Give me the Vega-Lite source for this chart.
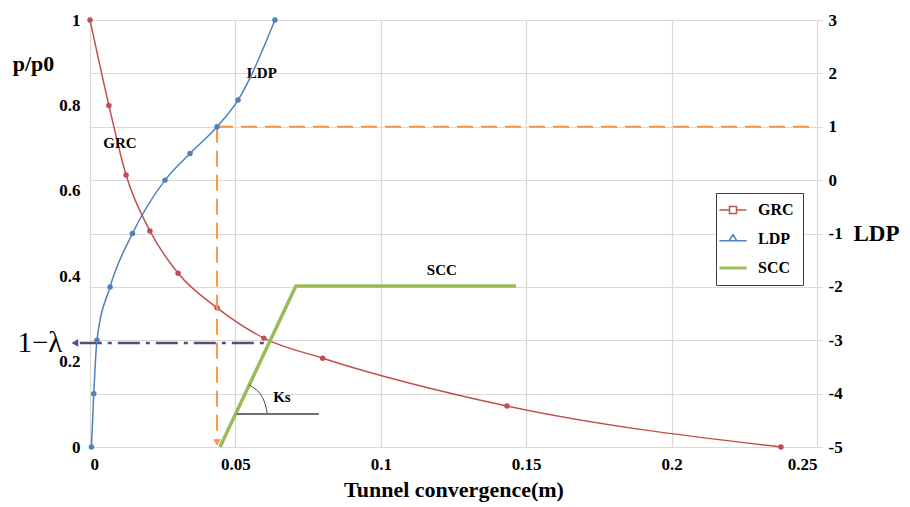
{
  "$schema": "https://vega.github.io/schema/vega-lite/v6.json",
  "width": 727,
  "height": 427,
  "autosize": {"type": "none"},
  "padding": {"left": 90, "top": 20, "right": 93, "bottom": 60},
  "background": "white",
  "config": {
    "view": {"stroke": null},
    "font": "Liberation Serif",
    "axis": {"labelFont": "Liberation Serif", "labelFontWeight": "bold", "labelFontSize": 17, "labelColor": "black", "titleFont": "Liberation Serif", "titleFontWeight": "bold", "titleColor": "black", "gridColor": "#D9D9D9", "gridWidth": 1.2, "domainColor": "#D9D9D9", "tickColor": "#D9D9D9"}
  },
  "datasets": {
    "grc": [
      {"series": "GRC", "x": 0.0, "y": 1.0},
      {"series": "GRC", "x": 0.0065, "y": 0.8},
      {"series": "GRC", "x": 0.0124, "y": 0.637},
      {"series": "GRC", "x": 0.0206, "y": 0.506},
      {"series": "GRC", "x": 0.0303, "y": 0.407},
      {"series": "GRC", "x": 0.0437, "y": 0.326},
      {"series": "GRC", "x": 0.0598, "y": 0.255},
      {"series": "GRC", "x": 0.080, "y": 0.208},
      {"series": "GRC", "x": 0.1434, "y": 0.096},
      {"series": "GRC", "x": 0.2376, "y": 0.0}
    ],
    "ldp": [
      {"series": "LDP", "x": 0.0005, "y": -5},
      {"series": "LDP", "x": 0.0013, "y": -4},
      {"series": "LDP", "x": 0.0024, "y": -3},
      {"series": "LDP", "x": 0.0069, "y": -2},
      {"series": "LDP", "x": 0.0146, "y": -1},
      {"series": "LDP", "x": 0.0258, "y": 0},
      {"series": "LDP", "x": 0.0344, "y": 0.5},
      {"series": "LDP", "x": 0.0437, "y": 1},
      {"series": "LDP", "x": 0.0509, "y": 1.5},
      {"series": "LDP", "x": 0.0636, "y": 3}
    ],
    "scc": [
      {"series": "SCC", "x": 0.0447, "y": 0.0},
      {"series": "SCC", "x": 0.0708, "y": 0.377},
      {"series": "SCC", "x": 0.1465, "y": 0.377}
    ],
    "orangeV": [{"x": 0.0437, "y": 0.75, "y2": 0.018}],
    "orangeTip": [{"x": 0.0437, "y": 0.0105}],
    "orangeH": [{"x": 0.0437, "x2": 0.25, "y": 1}],
    "purple": [{"x": -0.0035, "x2": 0.0605, "y": 0.2436}],
    "purpleTip": [{"x": -0.0052, "y": 0.2436}],
    "ksLine": [{"x": 0.0505, "x2": 0.0787, "y": 0.077}],
    "arc": [
      {"i": 0, "x": 0.0609, "y": 0.0796},
      {"i": 1, "x": 0.0602, "y": 0.1054},
      {"i": 2, "x": 0.0585, "y": 0.1265},
      {"i": 3, "x": 0.0568, "y": 0.1368},
      {"i": 4, "x": 0.0548, "y": 0.1452}
    ],
    "labels": [
      {"text": "GRC", "x": 0.0103, "y": 0.712},
      {"text": "LDP", "x": 0.0591, "y": 0.876},
      {"text": "SCC", "x": 0.121, "y": 0.4145},
      {"text": "Ks", "x": 0.066, "y": 0.117}
    ],
    "lambda": [{"text": "1−λ", "x": -0.0095, "y": 0.2436}]
  },
  "resolve": {"scale": {"y": "independent"}},
  "layer": [
    {
      "encoding": {
        "x": {"field": "x", "type": "quantitative", "scale": {"domain": [0, 0.25], "nice": false, "zero": false},
          "axis": {"title": "Tunnel convergence(m)", "titleFontSize": 22, "titlePadding": 7, "values": [0, 0.05, 0.1, 0.15, 0.2, 0.25], "format": "~g", "grid": true, "ticks": false, "domain": false, "labelPadding": 9}},
        "y": {"field": "y", "type": "quantitative", "scale": {"domain": [0, 1], "nice": false},
          "axis": {"orient": "left", "title": "p/p0", "titleFontSize": 22, "titleAngle": 0, "titleX": -57, "titleY": 43, "titleAlign": "center", "titleBaseline": "middle", "values": [0, 0.2, 0.4, 0.6, 0.8, 1], "format": "~g", "grid": false, "ticks": false, "domain": false, "labelPadding": 10}}
      },
      "layer": [
        {
          "data": {"name": "grc"},
          "mark": {"type": "line", "interpolate": "monotone", "strokeWidth": 1.5},
          "encoding": {
            "color": {"field": "series", "type": "nominal", "scale": {"domain": ["GRC", "LDP", "SCC"], "range": ["#C0504D", "#4F81BD", "#9BBB59"]},
              "legend": {"title": null, "orient": "none", "legendX": 626, "legendY": 173, "strokeColor": "#404040", "fillColor": "white", "padding": 9, "rowPadding": 13, "symbolSize": 729, "symbolStrokeWidth": 1.5, "labelFont": "Liberation Serif", "labelFontWeight": "bold", "labelFontSize": 16, "labelColor": "black", "labelOffset": 6,
                "encode": {
                  "symbols": {"update": {
                    "shape": {"signal": "datum.value === 'GRC' ? 'M-1,0H-0.26M0.26,0H1M-0.26,-0.26H0.26V0.26H-0.26Z' : datum.value === 'LDP' ? 'M-1,0.13H-0.28M0.28,0.13H1M-0.28,0.13L0,-0.32L0.28,0.13Z' : 'M-1,0H1'"},
                    "size": {"value": 729},
                    "strokeWidth": {"signal": "datum.value === 'SCC' ? 3 : 1.5"},
                    "fill": {"value": "white"}
                  }},
                  "labels": {"update": {"x": {"value": 33}}}
                }}}
          }
        },
        {
          "data": {"name": "grc"},
          "mark": {"type": "point", "shape": "circle", "filled": true, "size": 30, "color": "#C0504D", "opacity": 1}
        },
        {
          "data": {"name": "scc"},
          "mark": {"type": "line", "strokeWidth": 3.5},
          "encoding": {"color": {"field": "series", "type": "nominal"}}
        },
        {
          "data": {"name": "orangeV"},
          "mark": {"type": "rule", "color": "#F79646", "strokeWidth": 2, "strokeDash": [16, 8]},
          "encoding": {"y2": {"field": "y2"}}
        },
        {
          "data": {"name": "orangeTip"},
          "mark": {"type": "point", "shape": "triangle-down", "filled": true, "size": 60, "color": "#F79646", "opacity": 1}
        },
        {
          "data": {"name": "purple"},
          "mark": {"type": "rule", "color": "#604A7B", "strokeWidth": 2.5, "strokeDash": [22, 6, 4, 6]},
          "encoding": {"x2": {"field": "x2"}}
        },
        {
          "data": {"name": "purpleTip"},
          "mark": {"type": "point", "shape": "triangle-left", "filled": true, "size": 60, "color": "#604A7B", "opacity": 1}
        },
        {
          "data": {"name": "ksLine"},
          "mark": {"type": "rule", "color": "#404040", "strokeWidth": 1.5},
          "encoding": {"x2": {"field": "x2"}}
        },
        {
          "data": {"name": "arc"},
          "mark": {"type": "line", "interpolate": "basis", "color": "#404040", "strokeWidth": 1},
          "encoding": {"order": {"field": "i", "type": "quantitative"}}
        },
        {
          "data": {"name": "labels"},
          "mark": {"type": "text", "font": "Liberation Serif", "fontWeight": "bold", "fontSize": 15, "color": "black", "align": "center", "baseline": "middle"},
          "encoding": {"text": {"field": "text"}}
        },
        {
          "data": {"name": "lambda"},
          "mark": {"type": "text", "font": "Liberation Serif", "fontSize": 29, "color": "black", "align": "right", "baseline": "middle"},
          "encoding": {"text": {"field": "text"}}
        }
      ]
    },
    {
      "encoding": {
        "x": {"field": "x", "type": "quantitative", "scale": {"domain": [0, 0.25], "nice": false, "zero": false}},
        "y": {"field": "y", "type": "quantitative", "scale": {"domain": [-5, 3], "nice": false, "zero": false},
          "axis": {"orient": "right", "title": "LDP", "titleFontSize": 23, "titleAngle": 0, "titleX": 59, "titleY": 213, "titleAlign": "center", "titleBaseline": "middle", "values": [-5, -4, -3, -2, -1, 0, 1, 2, 3], "labelExpr": "datum.value < 0 ? '-' + abs(datum.value) : '' + datum.value", "grid": true, "ticks": true, "tickSize": 5, "domain": true, "labelPadding": 6}}
      },
      "layer": [
        {
          "data": {"name": "orangeH"},
          "mark": {"type": "rule", "color": "#F79646", "strokeWidth": 2, "strokeDash": [16, 8]},
          "encoding": {"x2": {"field": "x2"}}
        },
        {
          "data": {"name": "ldp"},
          "mark": {"type": "line", "interpolate": "monotone", "strokeWidth": 1.5},
          "encoding": {"color": {"field": "series", "type": "nominal"}}
        },
        {
          "data": {"name": "ldp"},
          "mark": {"type": "point", "shape": "circle", "filled": true, "size": 30, "color": "#4F81BD", "opacity": 1}
        }
      ]
    }
  ]
}
